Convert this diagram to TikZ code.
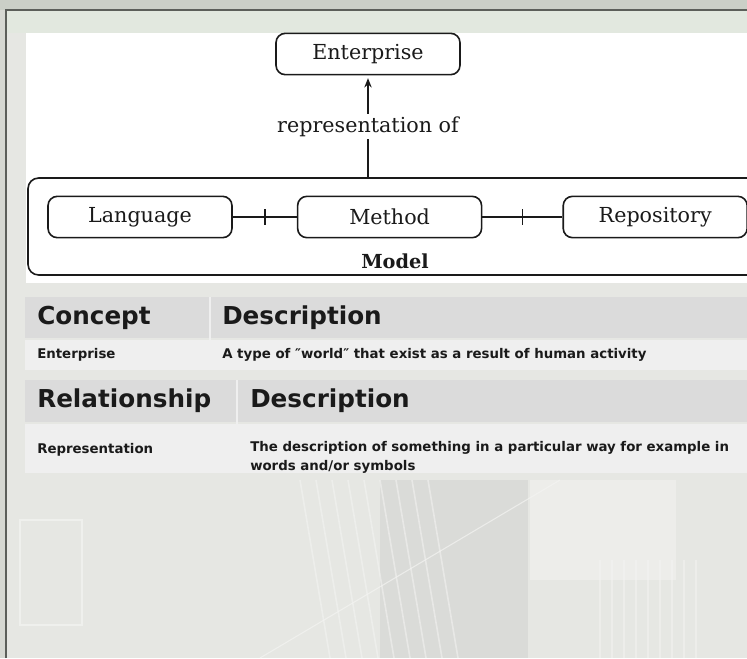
\documentclass[tikz,border=0pt]{standalone}
\usepackage{fontspec}
\setmainfont{DejaVu Serif}
\newfontfamily\tabfont{DejaVu Sans}
\usetikzlibrary{arrows.meta,positioning}
\definecolor{Ink}{HTML}{1A1A1A}
\definecolor{Backdrop}{HTML}{E6E7E3}
\definecolor{Shade}{HTML}{DADBD8}
\definecolor{TopBand}{HTML}{CBCFC7}
\definecolor{TopTint}{HTML}{E2E8DF}
\definecolor{Frame}{HTML}{5C5F5A}
\definecolor{HeadGrey}{HTML}{DBDBDB}
\definecolor{RowGrey}{HTML}{EFEFEF}
\definecolor{Sketch}{HTML}{F4F4F2}
\tikzset{
  partbox/.style={draw=Ink,line width=1.2pt,rounded corners=7pt,fill=white,text=Ink,minimum width=138pt,minimum height=31pt,font=\fontsize{15.5}{19}\selectfont},
  link/.style={draw=Ink,line width=1.1pt},
  relArrow/.style={link,-{Stealth[length=7pt,width=5.5pt]},shorten >=2pt},
  headText/.style={anchor=west,inner sep=0pt,text=Ink,font=\tabfont\bfseries\fontsize{18.5}{22}\selectfont},
  cellText/.style={anchor=west,inner sep=0pt,text=Ink,font=\tabfont\bfseries\fontsize{10}{14.2}\selectfont},
  colRule/.style={draw=white!55!HeadGrey,line width=1.5pt}
}

\begin{document}
\begin{tikzpicture}[x=0.75pt,y=-0.75pt]
\useasboundingbox (0,0) rectangle (747,658);
\clip (0,0) rectangle (747,658);
% slide backdrop
\fill[Backdrop] (0,0) rectangle (747,658);
\fill[TopBand] (0,0) rectangle (747,10);
\fill[TopBand!60!Backdrop] (0,10) rectangle (6,658);
\fill[TopTint] (6,10) rectangle (747,33);
% faint blueprint strokes
\fill[Shade] (380,480) rectangle (528,658);
\fill[Sketch,opacity=.5] (530,480) rectangle (676,580);
\foreach \x in {300,316,...,430}
  \draw[Sketch,line width=1.2pt,opacity=.55] (\x,480) -- (\x+30,658);
\foreach \x in {600,612,...,700}
  \draw[Sketch,line width=.8pt,opacity=.5] (\x,560) -- (\x,658);
\draw[Sketch,line width=.8pt,opacity=.7] (20,520) rectangle (82,625);
\draw[Sketch,line width=.8pt,opacity=.7] (260,658) -- (560,480);
\draw[Frame,line width=1pt] (6,658) -- (6,10) -- (747,10);

% white panel
\fill[white] (26,33) rectangle (747,283);

% model and its parts
\node[draw=Ink,line width=1.2pt,rounded corners=8pt,minimum width=549pt,minimum height=72.75pt] (model) at (394,226.5) {};
\node[partbox] (ent) at (368,54) {Enterprise};
\node[partbox] (lang) at (140,217) {Language};
\node[partbox,right=48pt of lang] (meth) {Method};
\node[partbox,right=60pt of meth] (repo) {Repository};
\node[text=Ink,font=\bfseries\fontsize{14.5}{17}\selectfont] (mlabel) at (395,261) {Model};

\draw[relArrow] (ent.south |- model.north) -- node[fill=white,inner sep=2pt,text=Ink,font=\fontsize{15.5}{19}\selectfont] (rel) {representation of} (ent.south);

% joins with a plus
\draw[link] (lang) -- (meth) coordinate[midway] (j1);
\draw[link,line width=1.3pt] ([yshift=6pt]j1) -- ([yshift=-6pt]j1);
\draw[link] (meth) -- (repo) coordinate[midway] (j2);
\draw[link,line width=1.3pt] ([yshift=6pt]j2) -- ([yshift=-6pt]j2);

% concept table
\fill[HeadGrey] (25,297) rectangle (747,338);
\fill[RowGrey] (25,340) rectangle (747,370);
\draw[colRule] (210,297) -- (210,370);
\node[headText] (conHead) at (37,318) {Concept};
\node[headText] (conDesc) at (222,318) {Description};
\node[cellText] (conName) at (37,355) {Enterprise};
\node[cellText] (conText) at (222,355) {A type of ″world″ that exist as a result of human activity};

% relationship table
\fill[HeadGrey] (25,380) rectangle (747,422);
\fill[RowGrey] (25,424) rectangle (747,473);
\draw[colRule] (237,380) -- (237,473);
\node[headText] (relHead) at (37,401) {Relationship};
\node[headText] (relDesc) at (250,401) {Description};
\node[cellText] (relName) at (37,450) {Representation};
\node[cellText,anchor=north west,align=left] (relText) at (250,441) {The description of something in a particular way for example in\\words and/or symbols};
\end{tikzpicture}
\end{document}
